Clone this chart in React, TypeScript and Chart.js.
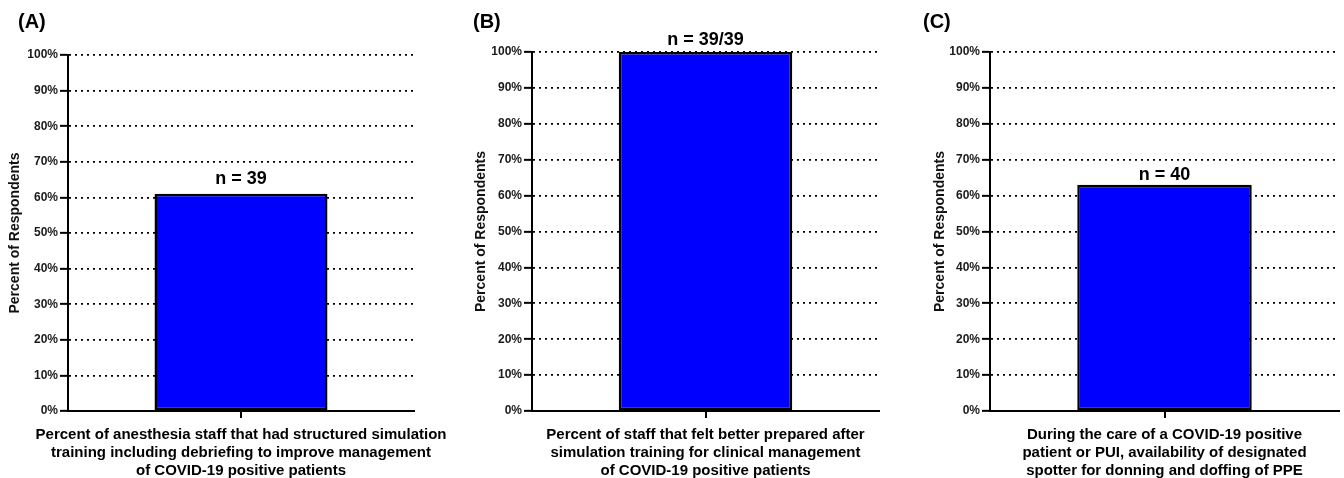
import React, { useEffect, useRef } from "react";
import { Chart, registerables } from "chart.js";

Chart.register(...registerables);

// ---- data ----
const panelLetters = ["(A)", "(B)", "(C)"];
const categoryLabels = [
  [
    "Percent of anesthesia staff that had structured simulation",
    "training including debriefing to improve management",
    "of COVID-19 positive patients",
  ],
  [
    "Percent of staff that felt better prepared after",
    "simulation training for clinical management",
    "of COVID-19 positive patients",
  ],
  [
    "During the care of a COVID-19 positive",
    "patient or PUI, availability of designated",
    "spotter for donning and doffing of PPE",
  ],
];
const percentValues = [61, 100, 63];
const nLabels = ["n = 39", "n = 39/39", "n = 40"];
const yAxisTitle = "Percent of Respondents";
const yMin = 0;
const yMax = 100;
const yStep = 10;

// ---- layout (per panel) ----
const layouts = [
  { left: 0, width: 460, axisW: 68, padRight: 46, padTop: 55, titlePad: 7, letterX: 18, gap: 10 },
  { left: 460, width: 460, axisW: 72, padRight: 41, padTop: 52, titlePad: 13, letterX: 13, gap: 7 },
  { left: 920, width: 424, axisW: 70, padRight: 5, padTop: 52, titlePad: 12, letterX: 3, gap: 5 },
];
const X_AXIS_HEIGHT = 67;

const FONT = "'Liberation Sans', Arial, Helvetica, sans-serif";

function Panel({ index }: { index: number }) {
  const ref = useRef<HTMLCanvasElement | null>(null);
  useEffect(() => {
    if (!ref.current) return;
    const L = layouts[index];
    const annot = {
      id: "annot" + index,
      afterDatasetsDraw(chart: any) {
        const ctx = chart.ctx;
        const meta = chart.getDatasetMeta(0);
        const bar = meta.data[0];
        ctx.save();
        ctx.fillStyle = "#000";
        ctx.font = `bold 18px ${FONT}`;
        ctx.textAlign = "center";
        ctx.textBaseline = "alphabetic";
        ctx.fillText(nLabels[index], bar.x, bar.y - L.gap);
        ctx.font = `bold 20px ${FONT}`;
        ctx.textAlign = "left";
        ctx.textBaseline = "middle";
        ctx.fillText(panelLetters[index], L.letterX, 22.5);
        ctx.restore();
      },
    };
    const chart = new Chart(ref.current, {
      type: "bar",
      data: {
        labels: [categoryLabels[index]],
        datasets: [
          {
            data: [percentValues[index]],
            backgroundColor: "#0000FF",
            borderColor: "#000",
            borderWidth: 2.5,
            borderSkipped: false,
            barPercentage: 0.5,
            categoryPercentage: 1,
          },
        ],
      },
      options: {
        animation: false,
        responsive: true,
        maintainAspectRatio: false,
        layout: { padding: { left: 0, right: L.padRight, top: L.padTop, bottom: 0 } },
        plugins: {
          legend: { display: false },
          tooltip: { enabled: false },
          title: { display: false },
        },
        scales: {
          x: {
            offset: true,
            grid: {
              display: true,
              drawOnChartArea: false,
              drawTicks: true,
              tickLength: 7,
              offset: false,
              color: "#000",
              lineWidth: 2,
            },
            border: { display: true, color: "#000", width: 2 },
            ticks: {
              maxRotation: 0,
              minRotation: 0,
              autoSkip: false,
              padding: 7.5,
              color: "#000",
              font: { family: FONT, size: 15, weight: "bold", lineHeight: 1.2 },
            },
            afterFit(scale: any) {
              scale.paddingLeft = 0;
              scale.paddingRight = 0;
              scale.height = X_AXIS_HEIGHT;
            },
          },
          y: {
            min: yMin,
            max: yMax,
            grid: {
              color: "#000",
              lineWidth: 1.7,
              tickLength: 8,
              tickWidth: 2,
              tickColor: "#000",
            },
            border: { display: true, color: "#000", width: 2, dash: [2, 4] },
            ticks: {
              stepSize: yStep,
              padding: 2,
              color: "#1a1a1a",
              font: { family: FONT, size: 12, weight: "bold" },
              callback: (v: any) => v + "%",
            },
            title: {
              display: true,
              text: yAxisTitle,
              color: "#111",
              padding: { top: L.titlePad, bottom: 0 },
              font: { family: FONT, size: 14, weight: "bold" },
            },
            afterFit(scale: any) {
              scale.width = L.axisW;
            },
          },
        },
      } as any,
      plugins: [annot],
    });
    return () => chart.destroy();
  }, [index]);
  const L = layouts[index];
  return (
    <div style={{ position: "absolute", left: L.left, top: 0, width: L.width, height: 478 }}>
      <canvas ref={ref} />
    </div>
  );
}

export default function App() {
  return (
    <div
      style={{
        position: "absolute",
        left: 0,
        top: 0,
        width: 1344,
        height: 478,
        background: "#fff",
        overflow: "hidden",
      }}
    >
      <Panel index={0} />
      <Panel index={1} />
      <Panel index={2} />
    </div>
  );
}
